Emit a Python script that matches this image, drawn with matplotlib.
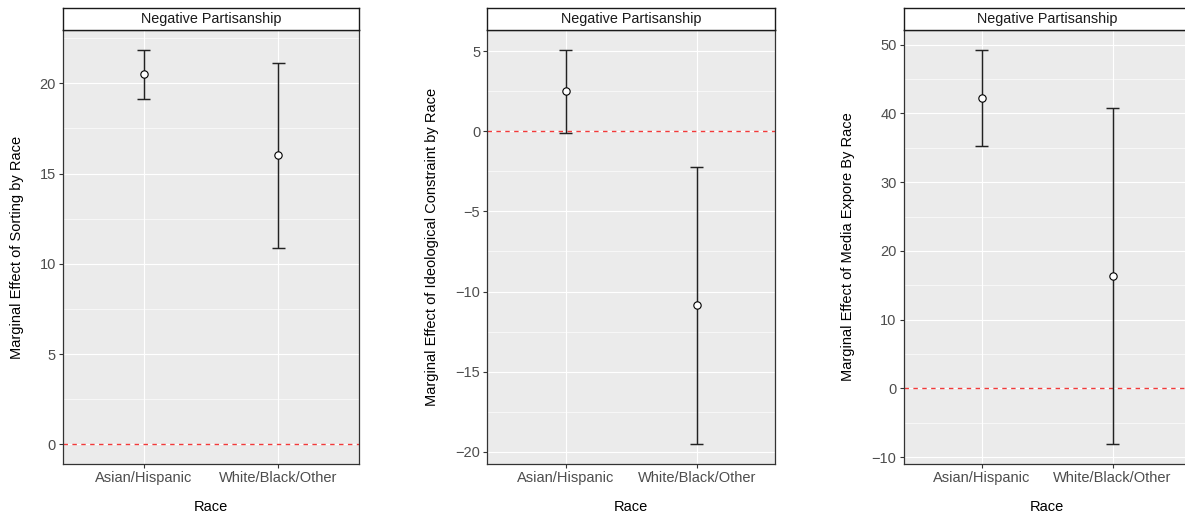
import matplotlib
matplotlib.use("Agg")
import matplotlib.pyplot as plt
from matplotlib.ticker import MultipleLocator, AutoMinorLocator

plt.rcParams["font.family"] = ["Liberation Sans", "DejaVu Sans"]

# Marginal effects by race (point estimate with 95% interval)
categories = ["Asian/Hispanic", "White/Black/Other"]

sorting_est = [20.52, 16.01]
sorting_lo = [19.15, 10.87]
sorting_hi = [21.86, 21.14]

ideology_est = [2.52, -10.87]
ideology_lo = [-0.08, -19.54]
ideology_hi = [5.10, -2.22]

media_est = [42.30, 16.28]
media_lo = [35.32, -8.14]
media_hi = [49.27, 40.80]

strip_title = "Negative Partisanship"
x_title = "Race"
y_titles = [
    "Marginal Effect of Sorting by Race",
    "Marginal Effect of Ideological Constraint by Race",
    "Marginal Effect of Media Expore By Race",
]
y_steps = [5, 5, 10]

W, H = 1185, 519
fig = plt.figure(figsize=(W / 100, H / 100), dpi=100)
fig.patch.set_facecolor("white")

# panel geometry in pixels: (left, right, y-title x)
panels = [(63, 359, 16.7), (487.3, 775.3, 432.3), (903.5, 1191, 848.3)]
top, bottom, strip_top = 30, 464, 8


def rect(x0, x1, y0, y1):
    return [x0 / W, 1 - y1 / H, (x1 - x0) / W, (y1 - y0) / H]


series = [
    (sorting_est, sorting_lo, sorting_hi),
    (ideology_est, ideology_lo, ideology_hi),
    (media_est, media_lo, media_hi),
]

for (x0, x1, ylab_x), (est, lo, hi), ytitle, step in zip(panels, series, y_titles, y_steps):
    ax = fig.add_axes(rect(x0, x1, top, bottom))
    ax.set_facecolor("#EBEBEB")
    xs = list(range(1, len(categories) + 1))

    # y range: data plus the reference line, with 5% padding
    ymin = min(min(lo), 0)
    ymax = max(max(hi), 0)
    pad = 0.05 * (ymax - ymin)
    ax.set_ylim(ymin - pad, ymax + pad)
    ax.set_xlim(0.4, len(categories) + 0.6)

    ax.yaxis.set_major_locator(MultipleLocator(step))
    ax.yaxis.set_minor_locator(AutoMinorLocator(2))
    ax.set_xticks(xs)
    ax.set_xticklabels(categories)

    ax.grid(which="major", color="white", linewidth=0.85, zorder=0)
    ax.grid(which="minor", axis="y", color="white", linewidth=0.45, zorder=0)
    ax.set_axisbelow(True)

    ax.axhline(0, color="#F23A3A", linewidth=1.0, linestyle=(0, (3.2, 3.2)), zorder=2)

    ax.vlines(xs, lo, hi, color="#222222", linewidth=1.05, zorder=3)
    cap = 0.05
    ax.hlines(lo, [x - cap for x in xs], [x + cap for x in xs], color="#222222", linewidth=1.05, zorder=3)
    ax.hlines(hi, [x - cap for x in xs], [x + cap for x in xs], color="#222222", linewidth=1.05, zorder=3)
    ax.scatter(xs, est, s=28, facecolor="white", edgecolor="black", linewidth=0.8, zorder=4)

    for sp in ax.spines.values():
        sp.set_color("#333333")
        sp.set_linewidth(0.9)
    ax.tick_params(which="major", length=3, width=0.8, color="#333333",
                   labelsize=10.5, labelcolor="#4D4D4D", pad=2)
    ax.tick_params(which="minor", length=0)

    # facet strip
    sax = fig.add_axes(rect(x0, x1, strip_top, top))
    sax.set_facecolor("white")
    sax.set_xticks([])
    sax.set_yticks([])
    for sp in sax.spines.values():
        sp.set_color("#1A1A1A")
        sp.set_linewidth(1.0)
    sax.text(0.5, 0.5, strip_title, ha="center", va="center", fontsize=10.4,
             color="#1A1A1A", transform=sax.transAxes)

    fig.text(ylab_x / W, 1 - (top + bottom) / 2 / H, ytitle, rotation=90,
             ha="center", va="center", fontsize=10.5, color="black")
    fig.text((x0 + x1) / 2 / W, 1 - 507 / H, x_title, ha="center", va="center",
             fontsize=10.5, color="black")

fig.savefig("out.png", dpi=100)
